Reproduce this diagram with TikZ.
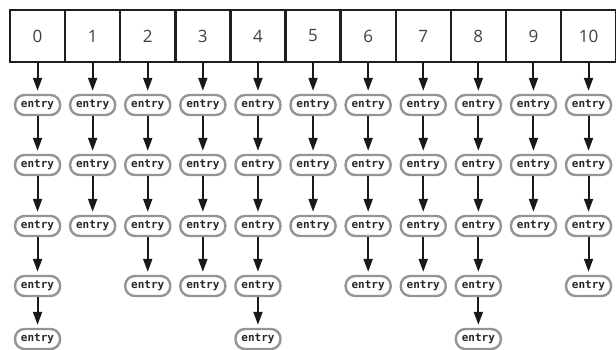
\documentclass[tikz,border=0pt]{standalone}
\usepackage{fontspec}
\setmainfont{Open Sans}
\newfontfamily\entryfont{DejaVu Sans Mono}
\usetikzlibrary{arrows.meta}
\begin{document}
\begin{tikzpicture}[x=1pt,y=-1pt,
  cell/.style={draw=black!88, line width=2.4pt, minimum width=55.1pt, minimum height=52pt,
    inner sep=0pt, font=\fontsize{17}{17}\selectfont, text=black!75},
  entrybox/.style={draw=black!42, line width=2.4pt, rounded corners=9.5pt, minimum width=45pt,
    minimum height=20pt, inner sep=0pt, text=black!85,
    font=\entryfont\bfseries\fontsize{11}{11}\selectfont},
  link/.style={draw=black!90, line width=2pt, shorten >=3pt,
    -{Triangle[length=13pt,width=9pt]}}]
\useasboundingbox (0,0) rectangle (616,350);
\foreach \i in {0,...,10}
  \node[cell] (c\i) at ({37.55+55.1*\i},36) {\i};
\foreach \i/\n in {0/5,1/3,2/4,3/4,4/5,5/3,6/4,7/4,8/5,9/3,10/4} {
  \foreach \r in {1,...,\n} {
    \pgfmathsetmacro\yy{{105,165,226,286,339}[\r-1]}
    \node[entrybox] (e\i-\r) at ({37.55+55.1*\i},\yy) {entry};
  }
  \draw[link] (c\i) -- (e\i-1);
  \foreach \r in {2,...,\n} {
    \pgfmathtruncatemacro\p{\r-1}
    \draw[link] (e\i-\p) -- (e\i-\r);
  }
}
\end{tikzpicture}
\end{document}
